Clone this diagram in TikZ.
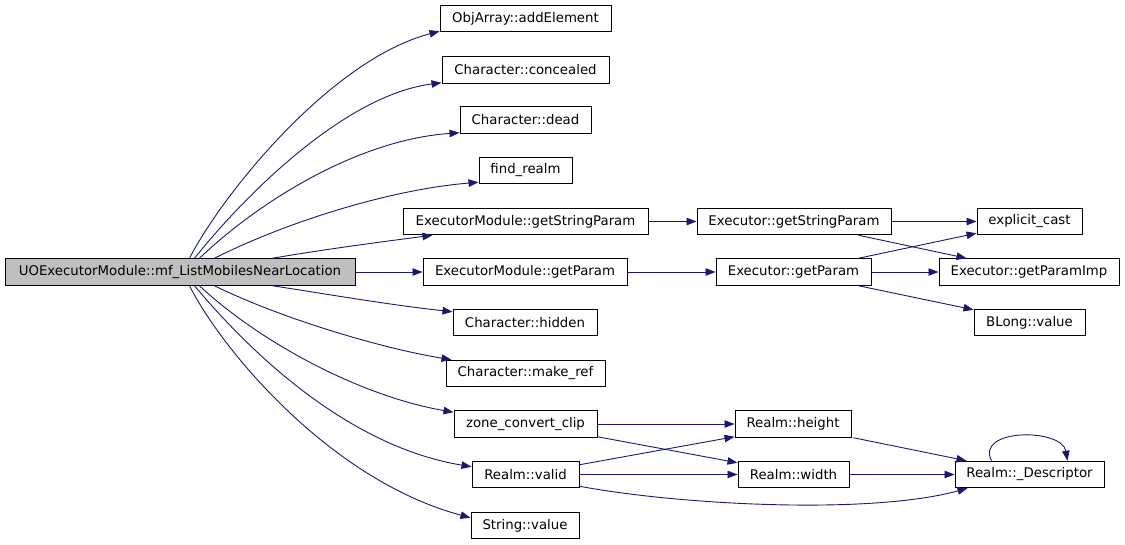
\documentclass[tikz,border=0pt]{standalone}
\usepackage{fontspec}
\newfontfamily\dejavu{DejaVu Sans}
\usetikzlibrary{arrows.meta}
\definecolor{edgec}{HTML}{191970}
\definecolor{mainfill}{HTML}{BFBFBF}
\tikzset{
  fn/.style={draw=black, line width=1pt, minimum height=26.5pt, inner sep=0pt,
    font=\dejavu\fontsize{13.3}{16}\selectfont, fill=white},
  edge/.style={draw=edgec, line width=0.9pt, -{Triangle[length=10pt,width=7.5pt]}},
}
\begin{document}
\begin{tikzpicture}[x=1pt,y=-1pt]
\useasboundingbox (0,0) rectangle (1125,544);
% nodes
\node[fn, fill=mainfill, minimum width=350pt] (main) at (180,272) {UOExecutorModule::mf\_ListMobilesNearLocation};
\node[fn, minimum width=171pt] (addel) at (525.5,18.5) {ObjArray::addElement};
\node[fn, minimum width=167pt] (conc) at (525.5,70) {Character::concealed};
\node[fn, minimum width=131pt] (dead) at (525.5,120) {Character::dead};
\node[fn, minimum width=93pt] (findr) at (525.5,170.5) {find\_realm};
\node[fn, minimum width=245pt] (emgsp) at (525.5,221.5) {ExecutorModule::getStringParam};
\node[fn, minimum width=204pt] (emgp) at (525,272) {ExecutorModule::getParam};
\node[fn, minimum width=144pt] (hidden) at (525,322.5) {Character::hidden};
\node[fn, minimum width=159pt] (makeref) at (525.5,373.5) {Character::make\_ref};
\node[fn, minimum width=143pt] (zone) at (525.5,424) {zone\_convert\_clip};
\node[fn, minimum width=107pt] (valid) at (525.5,474.5) {Realm::valid};
\node[fn, minimum width=108pt] (strval) at (525,525.5) {String::value};
\node[fn, minimum width=194pt] (egsp) at (794,221.5) {Executor::getStringParam};
\node[fn, minimum width=155pt] (egp) at (793.5,272) {Executor::getParam};
\node[fn, minimum width=116pt] (height) at (793,424) {Realm::height};
\node[fn, minimum width=111pt] (width) at (793.5,474.5) {Realm::width};
\node[fn, minimum width=105pt] (ecast) at (1029.5,221.5) {explicit\_cast};
\node[fn, minimum width=180pt] (gpi) at (1029,272) {Executor::getParamImp};
\node[fn, minimum width=111pt] (blong) at (1029.5,322.5) {BLong::value};
\node[fn, minimum width=149pt] (desc) at (1029.5,474.5) {Realm::\_Descriptor};
% edges from main (top)
\draw[edge] ([xshift=185pt]main.north west) .. controls (222,195) and (330,60) .. ([yshift=1pt]addel.south west);
\draw[edge] ([xshift=190pt]main.north west) .. controls (245,195) and (345,95) .. ([yshift=1pt]conc.south west);
\draw[edge] ([xshift=195pt]main.north west) .. controls (255,205) and (355,140) .. ([yshift=1pt]dead.south west);
\draw[edge] ([xshift=210pt]main.north west) .. controls (280,225) and (385,190) .. ([yshift=2pt]findr.south west);
\draw[edge] ([xshift=268pt]main.north west) .. controls (320,250) and (380,242) .. ([xshift=30pt]emgsp.south west);
\draw[edge] (main.east) -- (emgp.west);
% edges from main (bottom)
\draw[edge] ([xshift=268pt]main.south west) .. controls (320,293) and (390,305) .. ([yshift=-3pt]hidden.north west);
\draw[edge] ([xshift=210pt]main.south west) .. controls (280,318) and (380,348) .. ([xshift=6pt]makeref.north west);
\draw[edge] ([xshift=195pt]main.south west) .. controls (255,338) and (355,395) .. ([yshift=-2pt]zone.north west);
\draw[edge] ([xshift=190pt]main.south west) .. controls (240,340) and (340,445) .. ([yshift=-6pt]valid.north west);
\draw[edge] ([xshift=185pt]main.south west) .. controls (222,350) and (330,480) .. ([yshift=-6pt]strval.north west);
% right part
\draw[edge] (emgsp.east) -- (egsp.west);
\draw[edge] (emgp.east) -- (egp.west);
\draw[edge] (egsp.east) -- (ecast.west);
\draw[edge] ([xshift=-33pt]egsp.south east) -- ([xshift=28pt]gpi.north west);
\draw[edge] ([xshift=-13pt]egp.north east) -- ([yshift=2pt]ecast.south west);
\draw[edge] (egp.east) -- (gpi.west);
\draw[edge] ([xshift=-13pt]egp.south east) -- ([yshift=-1pt]blong.north west);
% bottom part
\draw[edge] (zone.east) -- (height.west);
\draw[edge] ([yshift=1pt]zone.south east) -- ([yshift=-2pt]width.north west);
\draw[edge] ([yshift=-4pt]valid.north east) -- ([yshift=1pt]height.south west);
\draw[edge] (valid.east) -- (width.west);
\draw[edge] ([yshift=2pt]valid.south east) .. controls (680,505) and (870,515) .. ([xshift=13pt]desc.south west);
\draw[edge] ([xshift=2pt]height.south east) -- ([xshift=12pt]desc.north west);
\draw[edge] (width.east) -- (desc.west);
\draw[edge] ([xshift=37pt]desc.north west) .. controls (975,428) and (1062,428) .. ([xshift=113pt]desc.north west);
\end{tikzpicture}
\end{document}
